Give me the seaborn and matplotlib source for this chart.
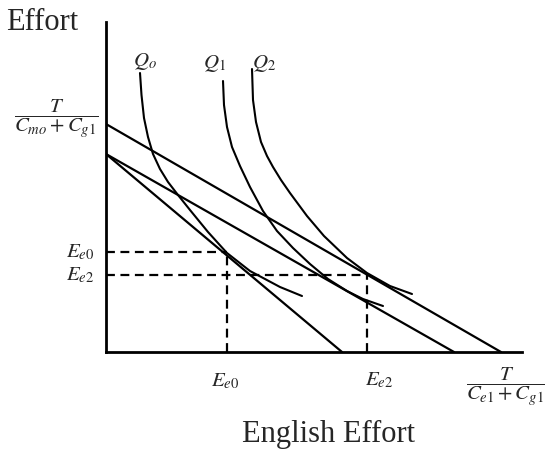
import numpy as np
import pandas as pd
import seaborn as sns
import matplotlib
matplotlib.use("Agg")
import matplotlib.pyplot as plt

# Budget lines (intercepts on the two axes, arbitrary units)
budget_upper = {"x": [0, 395], "y": [228, 0]}
budget_middle = {"x": [0, 348], "y": [198, 0]}
budget_lower = {"x": [0, 236], "y": [198, 0]}

# Isoquants
q0_x = [34, 35.5, 38, 42, 47, 54, 62, 72, 84, 102, 121, 144, 174, 196]
q0_y = [279, 257, 234, 215, 198, 183, 170, 157, 142, 120, 99, 81, 65, 56]
q1_x = [117, 118, 121, 126, 134, 144, 157, 171, 187, 204, 222, 241, 257, 277]
q1_y = [271, 247, 225, 205, 186, 165, 141, 121, 104, 88, 73, 61, 53, 46]
q2_x = [146, 147, 150, 155, 161, 167, 175, 184, 201, 218, 241, 261, 284, 306]
q2_y = [283, 252, 230, 210, 196, 185, 172, 159, 136, 116, 94, 79, 66, 58]

# Equilibrium points (dashed guides)
ee0 = (121, 100)
ee2 = (261, 77)

sns.set_theme(style="white")
plt.rcParams["font.family"] = ["Liberation Serif", "DejaVu Serif"]
plt.rcParams["mathtext.fontset"] = "stix"

fig = plt.figure(figsize=(5.45, 4.49), dpi=100)
ax = fig.add_axes([106 / 545, 97 / 449, 416 / 545, 330 / 449])

lines = pd.concat([
    pd.DataFrame(budget_upper).assign(name="upper"),
    pd.DataFrame(budget_middle).assign(name="middle"),
    pd.DataFrame(budget_lower).assign(name="lower"),
])
for name, d in lines.groupby("name"):
    sns.lineplot(data=d, x="x", y="y", ax=ax, color="black", lw=1.6,
                 estimator=None, sort=False)

for qx, qy in [(q0_x, q0_y), (q1_x, q1_y), (q2_x, q2_y)]:
    sns.lineplot(x=qx, y=qy, ax=ax, color="black", lw=1.5,
                 estimator=None, sort=False, solid_joinstyle="round")

dash_kw = dict(color="black", lw=1.6, dashes=(4, 2.5))
for ex, ey in [ee0, ee2]:
    ax.plot([0, ex], [ey, ey], **dash_kw)
    ax.plot([ex, ex], [0, ey], **dash_kw)

ax.set_xlim(0, 416)
ax.set_ylim(0, 330)
ax.set_xticks([])
ax.set_yticks([])
ax.set_xlabel("")
ax.set_ylabel("")
for s in ["top", "right"]:
    ax.spines[s].set_visible(False)
for s in ["left", "bottom"]:
    ax.spines[s].set_color("black")
    ax.spines[s].set_linewidth(2)

mfs = 15
ax.text(39, 290, r"$Q_o$", fontsize=mfs, ha="center", va="center")
ax.text(108, 289, r"$Q_1$", fontsize=mfs, ha="center", va="center")
ax.text(158, 289, r"$Q_2$", fontsize=mfs, ha="center", va="center")

ax.text(-12, ee0[1], r"$E_{e0}$", fontsize=mfs, ha="right", va="center", clip_on=False)
ax.text(-12, ee2[1], r"$E_{e2}$", fontsize=mfs, ha="right", va="center", clip_on=False)
ax.text(ee0[0] - 2, -29, r"$E_{e0}$", fontsize=mfs, ha="center", va="center", clip_on=False)
ax.text(ee2[0] + 12, -28, r"$E_{e2}$", fontsize=mfs, ha="center", va="center", clip_on=False)

ax.text(-50, 233, r"$\dfrac{T}{C_{mo}+C_{g1}}$", fontsize=mfs, ha="center",
        va="center", clip_on=False)
ax.text(400, -35, r"$\dfrac{T}{C_{e1}+C_{g1}}$", fontsize=mfs, ha="center",
        va="center", clip_on=False)

fig.text(6 / 545, 1 - 22 / 449, "Effort", fontsize=22, ha="left", va="center")
fig.text(328 / 545, 1 - 442 / 449, "English Effort", fontsize=22,
         ha="center", va="baseline")

fig.savefig("out.png", dpi=100)
